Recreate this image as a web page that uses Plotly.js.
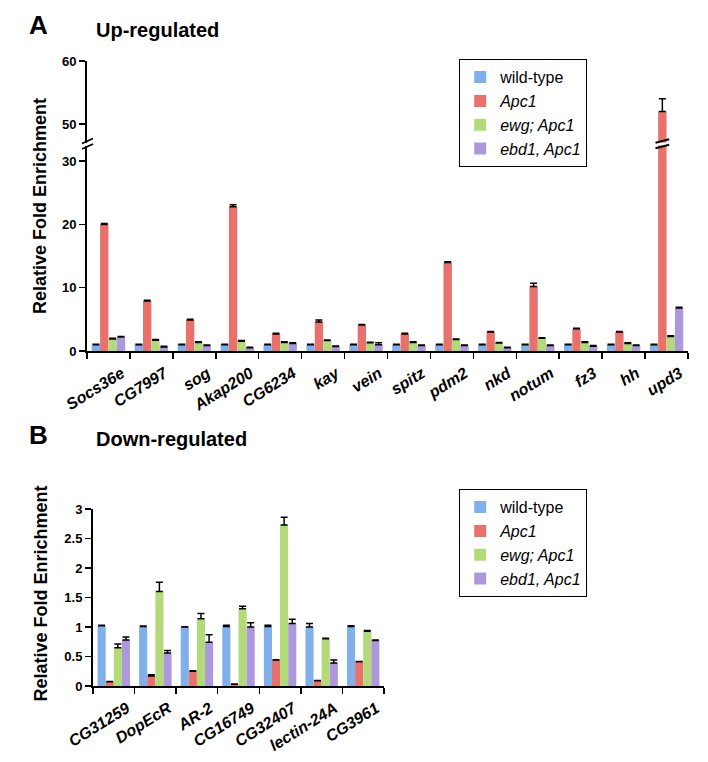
<!DOCTYPE html>
<html>
<head>
<meta charset="utf-8">
<script src="https://cdn.plot.ly/plotly-3.0.1.min.js"></script>
<style>html,body{margin:0;padding:0;background:#fff;}#chart{width:708px;height:762px;}</style>
</head>
<body>
<div id="chart"></div>
<script>
// ---------- Data ----------
const seriesNames = ['wild-type', '<i>Apc1</i>', '<i>ewg; Apc1</i>', '<i>ebd1, Apc1</i>'];
const seriesColors = ['#7fb0ea', '#e8716c', '#b3da78', '#ae98dc'];

// Panel A: Up-regulated
const genesA = ['Socs36e','CG7997','sog','Akap200','CG6234','kay','vein','spitz','pdm2','nkd','notum','fz3','hh','upd3'];
const wtA   = [1.0, 1.0, 1.0, 1.0, 1.0, 1.0, 1.0, 1.0, 1.0, 1.0, 1.0, 1.0, 1.0, 1.0];
const apcA  = [20.0, 7.9, 4.9, 22.8, 2.7, 4.6, 4.1, 2.7, 14.0, 3.0, 10.2, 3.5, 3.0, 52.0];
const ewgA  = [1.9, 1.7, 1.35, 1.55, 1.35, 1.65, 1.3, 1.35, 1.8, 1.25, 2.0, 1.35, 1.2, 2.3];
const ebdA  = [2.2, 0.65, 0.85, 0.5, 1.2, 0.7, 1.0, 0.85, 0.85, 0.5, 0.85, 0.75, 0.85, 6.8];
const wtErrA  = [0.05, 0.05, 0.05, 0.05, 0.05, 0.05, 0.05, 0.05, 0.05, 0.05, 0.05, 0.05, 0.05, 0.05];
const apcErrA = [0.15, 0.1, 0.1, 0.3, 0.1, 0.3, 0.1, 0.1, 0.1, 0.1, 0.5, 0.1, 0.1, 2.0];
const ewgErrA = [0.1, 0.1, 0.1, 0.1, 0.1, 0.1, 0.1, 0.1, 0.1, 0.1, 0.1, 0.1, 0.1, 0.1];
const ebdErrA = [0.1, 0.1, 0.1, 0.1, 0.1, 0.1, 0.3, 0.1, 0.1, 0.1, 0.1, 0.1, 0.1, 0.1];

// Panel B: Down-regulated
const genesB = ['CG31259','DopEcR','AR-2','CG16749','CG32407','lectin-24A','CG3961'];
const wtB   = [1.02, 1.01, 1.0, 1.01, 1.01, 1.0, 1.01];
const apcB  = [0.07, 0.17, 0.25, 0.03, 0.44, 0.09, 0.41];
const ewgB  = [0.65, 1.6, 1.14, 1.31, 2.73, 0.8, 0.93];
const ebdB  = [0.78, 0.56, 0.74, 1.0, 1.06, 0.39, 0.77];
const wtErrB  = [0.01, 0.005, 0.005, 0.02, 0.02, 0.06, 0.01];
const apcErrB = [0.005, 0.02, 0.01, 0.005, 0.005, 0.005, 0.005];
const ewgErrB = [0.06, 0.16, 0.09, 0.04, 0.13, 0.01, 0.01];
const ebdErrB = [0.05, 0.04, 0.13, 0.07, 0.07, 0.05, 0.01];

const yTicksLowA = [0, 10, 20, 30];
const yTicksHighA = [50, 60];
const yTicksB = [0, 0.5, 1, 1.5, 2, 2.5, 3];

// ---------- Helpers ----------
const W = 708, H = 762;
const px = v => v / W;
const py = v => 1 - v / H;
const FONT = 'Liberation Sans, Arial, sans-serif';

const valsA = [wtA, apcA, ewgA, ebdA];
const errsA = [wtErrA, apcErrA, ewgErrA, ebdErrA];
const valsB = [wtB, apcB, ewgB, ebdB];
const errsB = [wtErrB, apcErrB, ewgErrB, ebdErrB];

function errObj(arr) {
  return {type: 'data', array: arr, arrayminus: arr.map(() => 0), symmetric: false,
          color: '#000', thickness: 1.5, width: 3.5};
}

const traces = [];
// Panel A lower part
for (let i = 0; i < 4; i++) {
  traces.push({type: 'bar', x: genesA, y: valsA[i], name: seriesNames[i],
    marker: {color: seriesColors[i]}, error_y: errObj(errsA[i]),
    xaxis: 'x', yaxis: 'y', legend: 'legend', showlegend: true, hoverinfo: 'skip'});
}
// Panel A upper part (broken axis)
for (let i = 0; i < 4; i++) {
  traces.push({type: 'bar', x: genesA, y: valsA[i], name: seriesNames[i],
    marker: {color: seriesColors[i]}, error_y: errObj(errsA[i]),
    xaxis: 'x', yaxis: 'y3', showlegend: false, hoverinfo: 'skip'});
}
// Panel B
for (let i = 0; i < 4; i++) {
  traces.push({type: 'bar', x: genesB, y: valsB[i], name: seriesNames[i],
    marker: {color: seriesColors[i]}, error_y: errObj(errsB[i]),
    xaxis: 'x2', yaxis: 'y2', legend: 'legend2', showlegend: true, hoverinfo: 'skip'});
}

const tickFontY = {family: FONT, size: 13, color: '#000', weight: 'bold'};
const tickFontX = {family: FONT, size: 16, color: '#000', weight: 'bold', style: 'italic'};

const xCommon = {type: 'category', showline: true, linecolor: '#000', linewidth: 2,
  ticks: 'outside', tickson: 'boundaries', ticklen: 6, tickwidth: 1.5, tickcolor: '#000',
  tickangle: -32, ticklabelshift: 13, ticklabelstandoff: 5,
  tickfont: tickFontX, showgrid: false, zeroline: false, fixedrange: true};
const yCommon = {showline: true, linecolor: '#000', linewidth: 2, ticks: 'outside',
  ticklen: 6, tickwidth: 1.5, tickcolor: '#000', tickfont: tickFontY,
  showgrid: false, zeroline: false, fixedrange: true};

const lowTopPx = 145.5, highBotPx = 142.5;
const layout = {
  width: W, height: H,
  margin: {l: 0, r: 0, t: 0, b: 0},
  paper_bgcolor: '#fff', plot_bgcolor: 'rgba(0,0,0,0)',
  barmode: 'group', bargap: 0.22, bargroupgap: 0,
  font: {family: FONT, color: '#000'},
  xaxis: Object.assign({}, xCommon, {domain: [px(87), px(688)], anchor: 'y'}),
  yaxis: Object.assign({}, yCommon, {domain: [py(351), py(lowTopPx)], anchor: 'x',
    range: [0, (351 - lowTopPx) / 6.33], tickvals: yTicksLowA}),
  yaxis3: Object.assign({}, yCommon, {domain: [py(highBotPx), py(61)], anchor: 'x',
    range: [50 - (highBotPx - 124) / 6.3, 60], tickvals: yTicksHighA}),
  xaxis2: Object.assign({}, xCommon, {domain: [px(93), px(384)], anchor: 'y2'}),
  yaxis2: Object.assign({}, yCommon, {domain: [py(686), py(509)], anchor: 'x2',
    range: [0, 3], tickvals: yTicksB}),
  legend: {x: px(459), y: py(59), xanchor: 'left', yanchor: 'top',
    bordercolor: '#000', borderwidth: 1.2, bgcolor: '#fff', traceorder: 'normal',
    font: {family: FONT, size: 16, color: '#000'}},
  legend2: {x: px(459), y: py(489), xanchor: 'left', yanchor: 'top',
    bordercolor: '#000', borderwidth: 1.2, bgcolor: '#fff', traceorder: 'normal',
    font: {family: FONT, size: 16, color: '#000'}},
  annotations: [
    {text: '<b>A</b>', x: px(27), y: py(25), xref: 'paper', yref: 'paper', xanchor: 'left', yanchor: 'middle', showarrow: false, font: {size: 26, family: FONT}},
    {text: '<b>Up-regulated</b>', x: px(94), y: py(30), xref: 'paper', yref: 'paper', xanchor: 'left', yanchor: 'middle', showarrow: false, font: {size: 20, family: FONT}},
    {text: '<b>B</b>', x: px(27), y: py(435), xref: 'paper', yref: 'paper', xanchor: 'left', yanchor: 'middle', showarrow: false, font: {size: 26, family: FONT}},
    {text: '<b>Down-regulated</b>', x: px(94), y: py(439), xref: 'paper', yref: 'paper', xanchor: 'left', yanchor: 'middle', showarrow: false, font: {size: 20, family: FONT}},
    {text: '<b>Relative Fold Enrichment</b>', x: px(40), y: py(206), xref: 'paper', yref: 'paper', xanchor: 'center', yanchor: 'middle', textangle: -90, showarrow: false, font: {size: 18, family: FONT}},
    {text: '<b>Relative Fold Enrichment</b>', x: px(40.5), y: py(594), xref: 'paper', yref: 'paper', xanchor: 'center', yanchor: 'middle', textangle: -90, showarrow: false, font: {size: 18, family: FONT}}
  ],
  shapes: []
};

// axis break marks
const breakY = [141, 146.5];
breakY.forEach(yc => {
  layout.shapes.push({type: 'line', xref: 'paper', yref: 'paper',
    x0: px(82), y0: py(yc + 2.5), x1: px(93), y1: py(yc - 2.5),
    line: {color: '#000', width: 1.8}});
});
// break marks on the tall upd3 Apc1 bar
const upd3Idx = genesA.indexOf('upd3');
const barW = (1 - 0.22) / 4;
const apcCenter = upd3Idx - barW / 2;
breakY.forEach(yc => {
  layout.shapes.push({type: 'line', xref: 'x', yref: 'paper',
    x0: apcCenter - 0.16, y0: py(yc + 1.8), x1: apcCenter + 0.16, y1: py(yc - 1.8),
    line: {color: '#000', width: 2}});
});

Plotly.newPlot('chart', traces, layout, {staticPlot: true, displayModeBar: false});
</script>
</body>
</html>
